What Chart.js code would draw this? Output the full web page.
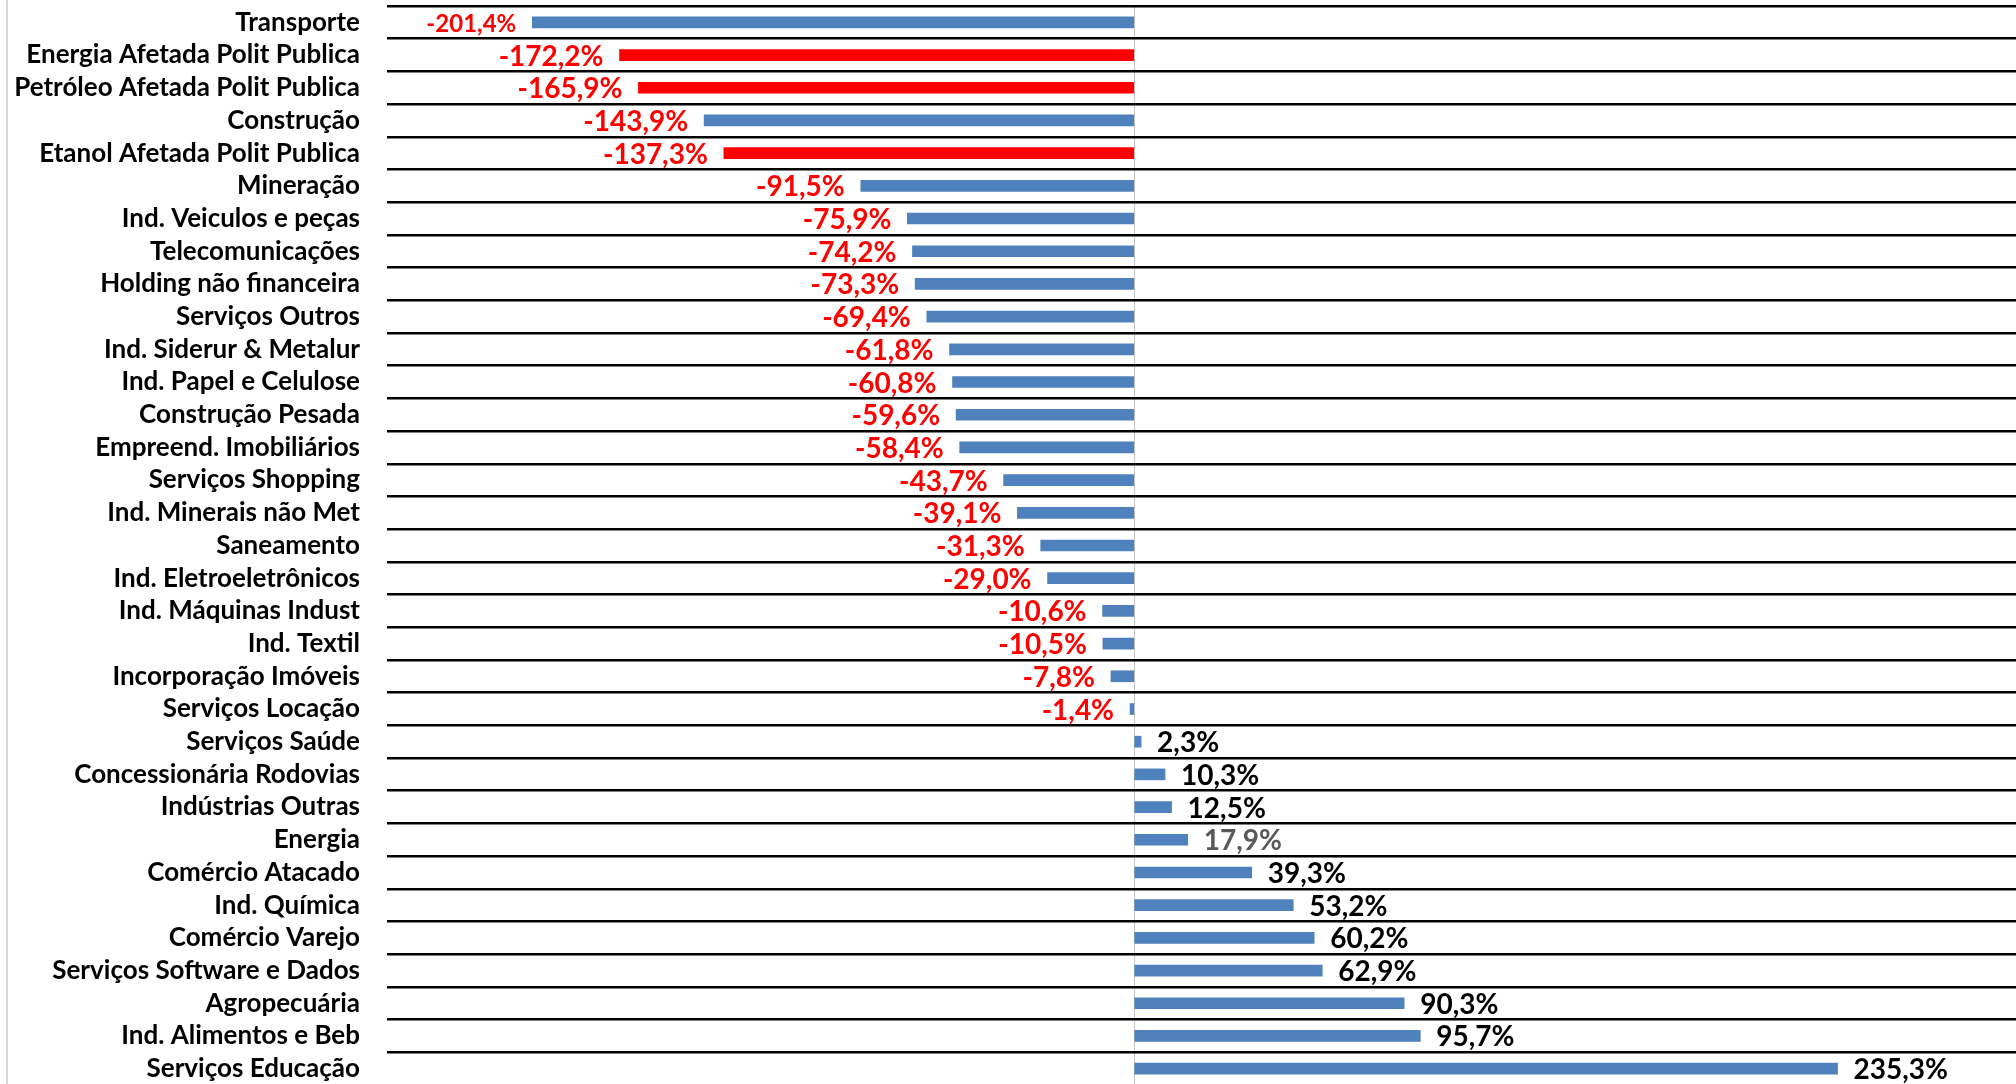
<!DOCTYPE html>
<html lang="pt-BR">
<head>
<meta charset="utf-8">
<title>Variação por setor</title>
<script src="https://cdn.jsdelivr.net/npm/chart.js@4.4.1/dist/chart.umd.min.js"></script>
<style>
  html, body { margin: 0; padding: 0; background: #ffffff; overflow: hidden; }
  #wrap { position: relative; width: 2016px; height: 1084px; overflow: hidden; }
  #chart { display: block; }
  #frame { position: absolute; left: 6px; top: 0; width: 2px; height: 1084px; background: #d9d9d9; }
</style>
</head>
<body>
<div id="wrap">
  <canvas id="chart" width="2016" height="1085"></canvas>
  <div id="frame"></div>
</div>
<script>
// Setores e variação percentual
const sectors = [
  'Transporte',
  'Energia Afetada Polit Publica',
  'Petróleo Afetada Polit Publica',
  'Construção',
  'Etanol Afetada Polit Publica',
  'Mineração',
  'Ind. Veiculos e peças',
  'Telecomunicações',
  'Holding não financeira',
  'Serviços Outros',
  'Ind. Siderur & Metalur',
  'Ind. Papel e Celulose',
  'Construção Pesada',
  'Empreend. Imobiliários',
  'Serviços Shopping',
  'Ind. Minerais não Met',
  'Saneamento',
  'Ind. Eletroeletrônicos',
  'Ind. Máquinas Indust',
  'Ind. Textil',
  'Incorporação Imóveis',
  'Serviços Locação',
  'Serviços Saúde',
  'Concessionária Rodovias',
  'Indústrias Outras',
  'Energia',
  'Comércio Atacado',
  'Ind. Química',
  'Comércio Varejo',
  'Serviços Software e Dados',
  'Agropecuária',
  'Ind. Alimentos e Beb',
  'Serviços Educação'
];

const variation = [
  -201.4, -172.2, -165.9, -143.9, -137.3, -91.5, -75.9, -74.2, -73.3, -69.4,
  -61.8, -60.8, -59.6, -58.4, -43.7, -39.1, -31.3, -29.0, -10.6, -10.5,
  -7.8, -1.4, 2.3, 10.3, 12.5, 17.9, 39.3, 53.2, 60.2, 62.9,
  90.3, 95.7, 235.3
];

// Setores afetados por política pública (barras em vermelho)
const policyAffected = [
  'Energia Afetada Polit Publica',
  'Petróleo Afetada Polit Publica',
  'Etanol Afetada Polit Publica'
];

const BLUE = '#4f81bd';
const RED = '#ff0000';
const FONT = 'Lato, "Open Sans", sans-serif';

function formatPct(v) {
  return v.toFixed(1).replace('.', ',') + '%';
}

// Rótulos de valor ao lado de cada barra
const valueLabels = {
  id: 'valueLabels',
  afterDatasetsDraw(chart) {
    const ctx = chart.ctx;
    const meta = chart.getDatasetMeta(0);
    ctx.save();
    ctx.textBaseline = 'middle';
    meta.data.forEach((bar, i) => {
      const v = variation[i];
      const neg = v < 0;
      const small = sectors[i] === 'Transporte';
      ctx.font = 'bold ' + (small ? 24 : 28) + 'px ' + FONT;
      if (neg) {
        ctx.fillStyle = RED;
      } else if (sectors[i] === 'Energia') {
        ctx.fillStyle = '#595959';
      } else {
        ctx.fillStyle = '#000000';
      }
      ctx.textAlign = neg ? 'right' : 'left';
      const gap = 16;
      ctx.fillText(formatPct(v), neg ? bar.x - gap : bar.x + gap, bar.y + 1.5);
    });
    ctx.restore();
  }
};

function noPadding(scale) {
  scale.paddingTop = 0;
  scale.paddingBottom = 0;
  scale.paddingLeft = 0;
  scale.paddingRight = 0;
}

new Chart(document.getElementById('chart'), {
  type: 'bar',
  data: {
    labels: sectors,
    datasets: [{
      data: variation,
      backgroundColor: sectors.map(s => policyAffected.includes(s) ? RED : BLUE),
      borderWidth: 0,
      barThickness: 11
    }]
  },
  options: {
    indexAxis: 'y',
    responsive: false,
    animation: false,
    devicePixelRatio: 1,
    layout: { padding: { top: 6, bottom: 0, left: 0, right: 0 } },
    plugins: {
      legend: { display: false },
      tooltip: { enabled: false }
    },
    scales: {
      x: {
        min: -250,
        max: 295,
        afterFit: scale => { scale.height = 0; noPadding(scale); },
        ticks: { display: false, stepSize: 50 },
        grid: {
          drawTicks: false,
          color: ctx => (ctx.tick && ctx.tick.value === 0) ? '#c4c4c4' : 'rgba(0,0,0,0)',
          lineWidth: 1
        },
        border: { display: true, color: '#bfbfbf', width: 2 }
      },
      y: {
        afterFit: scale => { scale.width = 387; noPadding(scale); },
        ticks: {
          color: '#000000',
          padding: 27,
          autoSkip: false,
          font: { family: FONT, weight: 'bold', size: 26 }
        },
        grid: {
          drawTicks: false,
          offset: true,
          color: ctx => ctx.type === 'tick' ? '#000000' : '#bfbfbf',
          lineWidth: 2.5
        },
        border: { display: false }
      }
    }
  },
  plugins: [valueLabels]
});
</script>
</body>
</html>
